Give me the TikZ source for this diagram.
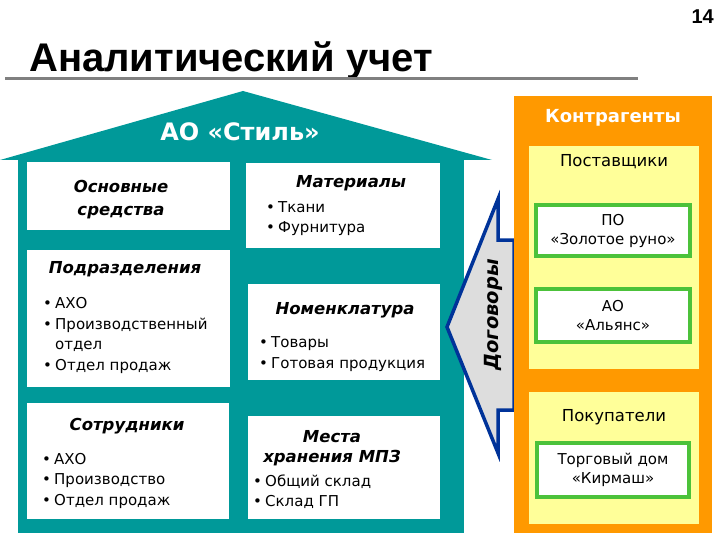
\documentclass[tikz,border=0pt]{standalone}
\usepackage{fontspec}
\setmainfont{DejaVu Sans}[BoldFont={DejaVu Sans Bold}, ItalicFont={DejaVu Sans Oblique},
  BoldItalicFont={DejaVu Sans Bold Oblique}]
\newfontfamily\titlefont{Liberation Sans}
\definecolor{housecyan}{HTML}{009999}
\definecolor{rulegray}{HTML}{808080}
\definecolor{partnerorange}{HTML}{FF9900}
\definecolor{grouppaper}{HTML}{FFFF99}
\definecolor{firmgreen}{HTML}{4CC23A}
\definecolor{dealblue}{HTML}{003399}
\definecolor{dealfill}{HTML}{DDDDDD}
\newcommand{\itm}[1]{\makebox[12pt][l]{•}#1}
\newcommand{\cnt}[1]{\hspace*{12pt}#1}
\newcommand{\areabox}[6]{%
  \node[#2, minimum width=#5pt, minimum height=#6pt] (#1) at (#3,#4) {};}

\begin{document}
\begin{tikzpicture}[x=1pt, y=-1pt,
    wbox/.style={fill=white, inner sep=0pt},
    ybox/.style={fill=grouppaper, inner sep=0pt},
    obox/.style={fill=partnerorange, inner sep=0pt},
    gbox/.style={draw=firmgreen, line width=3.5pt, fill=white, inner sep=0pt},
    heading/.style={font=\fontsize{16.5}{23}\selectfont\bfseries\itshape, align=center,
      anchor=base, inner sep=0pt},
    itemlist/.style={font=\fontsize{15}{20.5}\selectfont, align=left, anchor=base west,
      inner sep=0pt},
    firmtext/.style={font=\fontsize{15}{19}\selectfont, align=center, inner sep=0pt}]
  \useasboundingbox (0,0) rectangle (720,540);

  \node[anchor=base west, inner sep=0pt, font=\titlefont\bfseries\fontsize{40}{40}\selectfont]
    (title) at (29,72) {Аналитический учет};
  \node[anchor=base east, inner sep=0pt, font=\titlefont\bfseries\fontsize{20}{20}\selectfont]
    (page) at (714,24) {14};
  \coordinate (ruleL) at (5,79);
  \coordinate (ruleR) at (638,79);
  \draw[rulegray, line width=3pt] (ruleL) -- (ruleR);

  % house
  \fill[housecyan] (0,160) -- (243,91) -- (492,160) -- cycle;
  \fill[housecyan] (18,157) rectangle (464,533);
  \node[text=white, font=\bfseries\fontsize{24}{24}\selectfont] (firm) at (240,132) {АО «Стиль»};

  \areabox{os}{wbox}{128.5}{196}{203}{68}
  \areabox{podr}{wbox}{128.5}{318.5}{203}{137}
  \areabox{sotr}{wbox}{128}{461}{202}{116}
  \areabox{mat}{wbox}{343}{205.5}{194}{85}
  \areabox{nom}{wbox}{344}{332}{192}{96}
  \areabox{mpz}{wbox}{344}{467.5}{192}{103}

  % multi-line nodes sit on their last baseline
  \node[heading] (osH) at (121,215) {Основные\\средства};
  \node[heading] (podrH) at (125,273) {Подразделения};
  \node[itemlist] (podrL) at (43,370)
    {\itm{АХО}\\\itm{Производственный}\\\cnt{отдел}\\\itm{Отдел продаж}};
  \node[heading] (sotrH) at (127,430) {Сотрудники};
  \node[itemlist] (sotrL) at (42,505) {\itm{АХО}\\\itm{Производство}\\\itm{Отдел продаж}};
  \node[heading] (matH) at (351,188) {Материалы};
  \node[itemlist] (matL) at (266,233) {\itm{Ткани}\\\itm{Фурнитура}};
  \node[heading] (nomH) at (345,314) {Номенклатура};
  \node[itemlist] (nomL) at (259,368) {\itm{Товары}\\\itm{Готовая продукция}};
  \node[heading, font=\fontsize{16.5}{20}\selectfont\bfseries\itshape] (mpzH) at (332,462)
    {Места\\хранения МПЗ};
  \node[itemlist, font=\fontsize{15}{19.5}\selectfont] (mpzL) at (253,506)
    {\itm{Общий склад}\\\itm{Склад ГП}};

  % contracts
  \filldraw[fill=dealfill, draw=dealblue, line width=3.5pt]
    (447,327) -- (498,199) -- (498,240) -- (514,240) -- (514,410) -- (498,410) -- (498,453) -- cycle;
  \node[rotate=90, font=\fontsize{19.5}{19.5}\selectfont\bfseries\itshape] (deal) at (493,315) {Договоры};

  % counterparties
  \areabox{kontr}{obox}{613}{314.5}{198}{437}
  \areabox{post}{ybox}{614}{257.5}{170}{223}
  \areabox{pok}{ybox}{614}{458}{170}{132}
  \areabox{zol}{gbox}{613}{230.5}{154}{51}
  \areabox{aly}{gbox}{613}{315.5}{154}{53}
  \areabox{kir}{gbox}{613}{470}{152}{54}

  \node[text=white, font=\bfseries\fontsize{18}{18}\selectfont] (kontrH) at (613,118) {Контрагенты};
  \node[font=\fontsize{16.5}{16.5}\selectfont] (postH) at (614,162) {Поставщики};
  \node[font=\fontsize{16.5}{16.5}\selectfont] (pokH) at (614,417) {Покупатели};
  \node[firmtext] at (zol) {ПО\\«Золотое руно»};
  \node[firmtext] at (aly) {АО\\«Альянс»};
  \node[firmtext] at (kir) {Торговый дом\\«Кирмаш»};
\end{tikzpicture}
\end{document}
